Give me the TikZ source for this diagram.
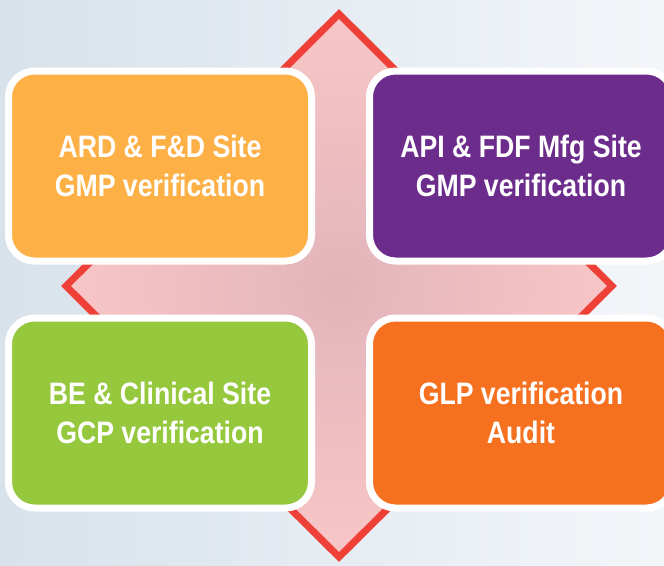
\documentclass[tikz,border=0pt]{standalone}
\usepackage{fontspec}
\setmainfont[FakeStretch=0.86]{Liberation Sans}
\usetikzlibrary{positioning}

\definecolor{bgdark}{HTML}{D8E2EB}
\definecolor{bglight}{HTML}{F3F6F9}
\definecolor{diamondred}{HTML}{EF4038}
\definecolor{diamondpink}{HTML}{F8C6C6}
\definecolor{diamondmid}{HTML}{E2B4BA}
\definecolor{cardamber}{HTML}{FDB046}
\definecolor{cardpurple}{HTML}{6B2C8C}
\definecolor{cardgreen}{HTML}{95C83D}
\definecolor{cardorange}{HTML}{F5701F}

\tikzset{
  card/.style={draw=white, line width=7pt, rounded corners=26pt,
    minimum width=303pt, minimum height=190pt, inner sep=0pt,
    align=center, text=white, font=\fontsize{31}{38.5}\selectfont\bfseries},
}

\begin{document}
\begin{tikzpicture}[x=1pt,y=-1pt,node distance=50pt and 51pt]
  \useasboundingbox (0,0) rectangle (664,565);
  \clip (0,0) rectangle (664,565);
  \shade[left color=bgdark, right color=bglight] (0,0) rectangle (664,565); % background

  % diamond behind the cards
  \coordinate (top) at (339,14);
  \coordinate (right) at (612,286);
  \coordinate (bottom) at (339,557);
  \coordinate (left) at (66,286);
  \shade[inner color=diamondmid, outer color=diamondpink]
    (top) -- (right) -- (bottom) -- (left) -- cycle;
  \draw[diamondred, line width=7pt, miter limit=4]
    (top) -- (right) -- (bottom) -- (left) -- cycle;

  \node[card, fill=cardamber] (ard) at (160,166) {ARD \& F\&D Site\\GMP verification};
  \node[card, fill=cardpurple, right=of ard] (api) {API \& FDF Mfg Site\\GMP verification};
  \node[card, fill=cardgreen, below=of ard] (be) {BE \& Clinical Site\\GCP verification};
  \node[card, fill=cardorange, below=of api] (glp) {GLP verification\\Audit};
\end{tikzpicture}
\end{document}
